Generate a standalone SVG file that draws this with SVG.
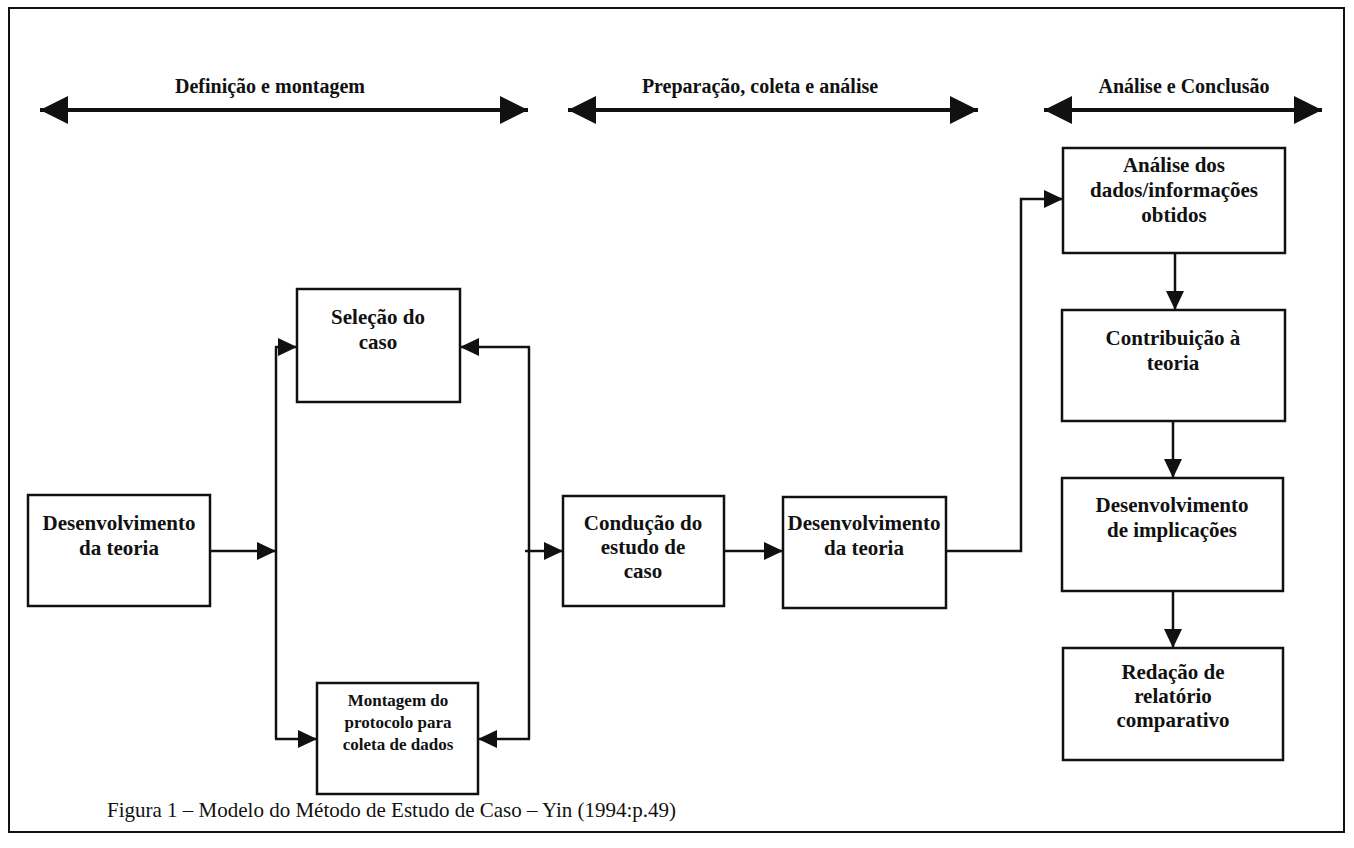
<svg xmlns="http://www.w3.org/2000/svg" width="1354" height="848" viewBox="0 0 1354 848">
  <style>
    .frame { fill: none; stroke: #111; stroke-width: 2; }
    .box { fill: #fff; stroke: #111; stroke-width: 2.5; }
    .lbl { font-family: "Liberation Serif", "Times New Roman", serif; font-weight: bold; font-size: 21px; fill: #111; text-anchor: middle; }
    .lbl-sm { font-size: 17px; }
    .phase { font-family: "Liberation Serif", "Times New Roman", serif; font-weight: bold; font-size: 20px; fill: #111; text-anchor: middle; }
    .cap { font-family: "Liberation Serif", "Times New Roman", serif; font-size: 21px; fill: #111; }
    .wire { fill: none; stroke: #111; stroke-width: 2.5; }
    .span { fill: none; stroke: #111; stroke-width: 4; }
  </style>
  <defs>
    <marker id="tip" markerUnits="userSpaceOnUse" markerWidth="19" markerHeight="18" refX="19" refY="9" orient="auto">
      <path d="M0,0 L19,9 L0,18 Z" fill="#111"/>
    </marker>
    <marker id="bigtip" markerUnits="userSpaceOnUse" markerWidth="28" markerHeight="28" refX="28" refY="14" orient="auto-start-reverse">
      <path d="M0,0 L28,14 L0,28 Z" fill="#111"/>
    </marker>
  </defs>

  <rect class="frame" x="9" y="8" width="1335" height="824"/>

  <!-- phase spans -->
  <g id="phases">
    <text class="phase" x="270" y="93">Definição e montagem</text>
    <line class="span" x1="40" y1="110" x2="528" y2="110" marker-start="url(#bigtip)" marker-end="url(#bigtip)"/>
    <text class="phase" x="760" y="93">Preparação, coleta e análise</text>
    <line class="span" x1="568" y1="110" x2="978" y2="110" marker-start="url(#bigtip)" marker-end="url(#bigtip)"/>
    <text class="phase" x="1184" y="93">Análise e Conclusão</text>
    <line class="span" x1="1044" y1="110" x2="1322" y2="110" marker-start="url(#bigtip)" marker-end="url(#bigtip)"/>
  </g>

  <!-- connectors -->
  <g id="connectors">
    <line class="wire" x1="210" y1="551" x2="276" y2="551" marker-end="url(#tip)"/>
    <line class="wire" x1="276" y1="347" x2="276" y2="739"/>
    <line class="wire" x1="275" y1="347" x2="297" y2="347" marker-end="url(#tip)"/>
    <line class="wire" x1="275" y1="739" x2="317" y2="739" marker-end="url(#tip)"/>
    <line class="wire" x1="529" y1="347" x2="529" y2="739"/>
    <line class="wire" x1="530" y1="347" x2="460" y2="347" marker-end="url(#tip)"/>
    <line class="wire" x1="530" y1="739" x2="478" y2="739" marker-end="url(#tip)"/>
    <line class="wire" x1="525" y1="551" x2="563" y2="551" marker-end="url(#tip)"/>
    <line class="wire" x1="724" y1="551" x2="783" y2="551" marker-end="url(#tip)"/>
    <polyline class="wire" points="946,551 1021,551 1021,199 1063,199" marker-end="url(#tip)"/>
    <line class="wire" x1="1175" y1="253" x2="1175" y2="310" marker-end="url(#tip)"/>
    <line class="wire" x1="1173" y1="421" x2="1173" y2="478" marker-end="url(#tip)"/>
    <line class="wire" x1="1173" y1="591" x2="1173" y2="648" marker-end="url(#tip)"/>
  </g>

  <g id="dev-theory-1">
    <rect class="box" x="28" y="495" width="182" height="111"/>
    <text class="lbl" x="119" y="530">Desenvolvimento</text>
    <text class="lbl" x="119" y="555">da teoria</text>
  </g>

  <g id="case-selection">
    <rect class="box" x="297" y="289" width="163" height="113"/>
    <text class="lbl" x="378" y="324">Seleção do</text>
    <text class="lbl" x="378" y="349">caso</text>
  </g>

  <g id="protocol">
    <rect class="box" x="317" y="683" width="161" height="111"/>
    <text class="lbl lbl-sm" x="398" y="706">Montagem do</text>
    <text class="lbl lbl-sm" x="398" y="728">protocolo para</text>
    <text class="lbl lbl-sm" x="398" y="750">coleta de dados</text>
  </g>

  <g id="conduct">
    <rect class="box" x="563" y="496" width="161" height="110"/>
    <text class="lbl" x="643" y="530">Condução do</text>
    <text class="lbl" x="643" y="554">estudo de</text>
    <text class="lbl" x="643" y="578">caso</text>
  </g>

  <g id="dev-theory-2">
    <rect class="box" x="783" y="497" width="163" height="111"/>
    <text class="lbl" x="864" y="530">Desenvolvimento</text>
    <text class="lbl" x="864" y="555">da teoria</text>
  </g>

  <g id="analysis">
    <rect class="box" x="1063" y="148" width="222" height="105"/>
    <text class="lbl" x="1174" y="172">Análise dos</text>
    <text class="lbl" x="1174" y="197">dados/informações</text>
    <text class="lbl" x="1174" y="222">obtidos</text>
  </g>

  <g id="contribution">
    <rect class="box" x="1062" y="310" width="223" height="111"/>
    <text class="lbl" x="1173" y="345">Contribuição à</text>
    <text class="lbl" x="1173" y="370">teoria</text>
  </g>

  <g id="implications">
    <rect class="box" x="1062" y="478" width="221" height="113"/>
    <text class="lbl" x="1172" y="512">Desenvolvimento</text>
    <text class="lbl" x="1172" y="537">de implicações</text>
  </g>

  <g id="report">
    <rect class="box" x="1063" y="648" width="220" height="112"/>
    <text class="lbl" x="1173" y="679">Redação de</text>
    <text class="lbl" x="1173" y="703">relatório</text>
    <text class="lbl" x="1173" y="727">comparativo</text>
  </g>

  <text class="cap" x="107" y="817">Figura 1 – Modelo do Método de Estudo de Caso – Yin (1994:p.49)</text>
</svg>
